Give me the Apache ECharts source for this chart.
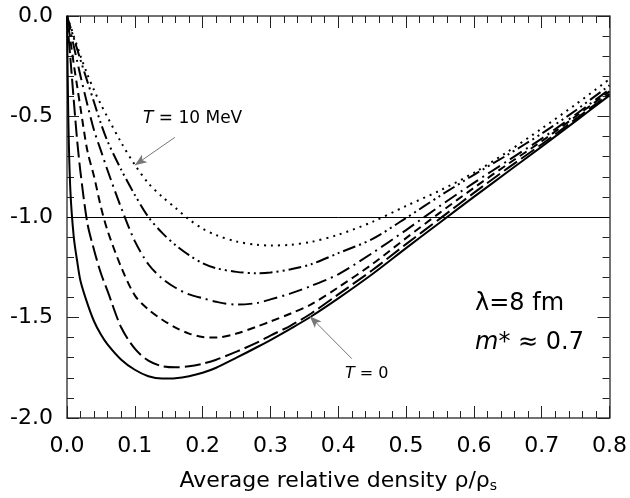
<!DOCTYPE html>
<html><head><meta charset="utf-8">
<script src="https://cdn.jsdelivr.net/npm/echarts@6/dist/echarts.min.js"></script>
<style>html,body{margin:0;padding:0;background:#fff}#c{width:630px;height:498px}</style>
</head><body><div id="c"></div>
<script>
// average relative density rho/rho_s
const xs = [0, 0.002, 0.005, 0.01, 0.015, 0.02, 0.03, 0.04, 0.05, 0.06, 0.08, 0.10, 0.12, 0.14, 0.16, 0.18, 0.20, 0.22, 0.25, 0.28, 0.30, 0.33, 0.36, 0.40, 0.45, 0.50, 0.55, 0.60, 0.65, 0.70, 0.75, 0.80];
// curves from T = 0 (solid) to T = 10 MeV (dotted)
const curveT0 = [0, -0.52, -0.87, -1.10, -1.22, -1.32, -1.43, -1.52, -1.585, -1.635, -1.71, -1.76, -1.792, -1.804, -1.802, -1.792, -1.775, -1.75, -1.70, -1.648, -1.612, -1.555, -1.495, -1.405, -1.285, -1.155, -1.027, -0.90, -0.775, -0.65, -0.523, -0.395];
const curve2 = [0, -0.09, -0.21, -0.42, -0.62, -0.78, -1.03, -1.165, -1.28, -1.37, -1.55, -1.655, -1.715, -1.742, -1.748, -1.743, -1.73, -1.71, -1.67, -1.625, -1.59, -1.54, -1.48, -1.385, -1.265, -1.135, -1.008, -0.88, -0.757, -0.638, -0.513, -0.387];
const curve3 = [0, -0.05, -0.12, -0.24, -0.35, -0.46, -0.67, -0.80, -0.95, -1.07, -1.25, -1.39, -1.46, -1.51, -1.55, -1.58, -1.597, -1.60, -1.58, -1.545, -1.52, -1.48, -1.435, -1.35, -1.235, -1.105, -0.978, -0.855, -0.737, -0.623, -0.50, -0.375];
const curve4 = [0, -0.03, -0.075, -0.15, -0.225, -0.30, -0.44, -0.57, -0.67, -0.77, -0.955, -1.12, -1.235, -1.305, -1.352, -1.385, -1.404, -1.422, -1.436, -1.428, -1.41, -1.38, -1.343, -1.285, -1.18, -1.065, -0.945, -0.83, -0.72, -0.61, -0.49, -0.365];
const curve5 = [0, -0.022, -0.055, -0.11, -0.165, -0.22, -0.325, -0.43, -0.535, -0.625, -0.765, -0.89, -1.0, -1.078, -1.14, -1.19, -1.23, -1.255, -1.273, -1.28, -1.276, -1.26, -1.235, -1.18, -1.11, -1.005, -0.895, -0.79, -0.69, -0.585, -0.47, -0.345];
const curveT10 = [0, -0.02, -0.05, -0.10, -0.15, -0.20, -0.29, -0.37, -0.44, -0.505, -0.63, -0.74, -0.832, -0.898, -0.955, -1.012, -1.058, -1.09, -1.122, -1.138, -1.142, -1.138, -1.124, -1.088, -1.025, -0.945, -0.868, -0.78, -0.675, -0.56, -0.44, -0.314];
const refLevel = -1.0;
// annotation arrows (tail, tip) in data coordinates
const arrowHot = [[0.159, -0.604], [0.100, -0.742]];
const arrowCold = [[0.420, -1.705], [0.358, -1.494]];

const FONT = 'DejaVu Sans';
const zip = ys => xs.map((x, i) => [x, ys[i]]);
const dashes = [
  {d: curveT0, t: 'solid'},
  {d: curve2, t: [16, 5]},
  {d: curve3, t: [8, 5]},
  {d: curve4, t: [14, 5, 2, 5]},
  {d: curve5, t: [13, 4, 2, 4, 2, 4]},
  {d: curveT10, t: [2, 5]}
];
const arrowLine = (pts) => ({
  silent: true, animation: false,
  symbol: ['none', 'arrow'], symbolSize: [7, 12],
  label: {show: false},
  lineStyle: {color: '#777', width: 1, type: 'solid'},
  itemStyle: {color: '#777'},
  data: [[{coord: pts[0]}, {coord: pts[1]}]]
});

const series = dashes.map((c, i) => ({
  type: 'line', data: zip(c.d), showSymbol: false, smooth: 0.3,
  lineStyle: {color: '#000', width: 2, type: c.t, cap: 'butt'},
  z: 3
}));
series[0].markLine = {
  silent: true, animation: false, symbol: 'none', label: {show: false},
  lineStyle: {color: '#000', width: 1, type: 'solid'},
  data: [{yAxis: refLevel}]
};
series.push({type: 'line', data: [], xAxisIndex: 0, yAxisIndex: 0, markLine: arrowLine(arrowHot)});
series.push({type: 'line', data: [], xAxisIndex: 0, yAxisIndex: 0, markLine: arrowLine(arrowCold)});

const axisCommon = {
  axisLine: {show: true, onZero: false, lineStyle: {color: '#444', width: 1.5}},
  axisTick: {show: true, inside: true, length: 12, lineStyle: {color: '#222', width: 1}},
  minorTick: {show: true, splitNumber: 5, length: 7, lineStyle: {color: '#222', width: 1}},
  splitLine: {show: false}
};
const chart = echarts.init(document.getElementById('c'), null, {renderer: 'canvas'});
chart.setOption({
  animation: false,
  backgroundColor: '#fff',
  grid: {left: 67, right: 20, top: 16, bottom: 75},
  xAxis: [
    Object.assign({type: 'value', min: 0, max: 0.8, interval: 0.1, position: 'bottom',
      axisLabel: {fontSize: 22, fontFamily: FONT, color: '#000', margin: 17, formatter: v => v.toFixed(1)},
      name: 'Average relative density ρ/ρ{s|s}', nameLocation: 'middle', nameGap: 51,
      nameTextStyle: {fontSize: 22, fontFamily: FONT, color: '#000',
        rich: {s: {fontSize: 14, fontFamily: FONT, color: '#000', verticalAlign: 'bottom', padding: [10, 0, 0, 0]}}}
    }, axisCommon),
    Object.assign({type: 'value', min: 0, max: 0.8, interval: 0.1, position: 'top', axisLabel: {show: false}}, axisCommon)
  ],
  yAxis: [
    Object.assign({type: 'value', min: -2, max: 0, interval: 0.5, position: 'left',
      axisLabel: {fontSize: 22, fontFamily: FONT, color: '#000', margin: 14, formatter: v => v.toFixed(1)}
    }, axisCommon),
    Object.assign({type: 'value', min: -2, max: 0, interval: 0.5, position: 'right', axisLabel: {show: false}}, axisCommon)
  ],
  graphic: [
    {type: 'text', left: 143, top: 110, style: {text: '{i|T} = 10 MeV', fontSize: 17, fontFamily: FONT, fill: '#000',
      rich: {i: {fontStyle: 'italic', fontSize: 17, fontFamily: FONT, fill: '#000'}}}},
    {type: 'text', left: 345, top: 366, style: {text: '{i|T} = 0', fontSize: 16, fontFamily: FONT, fill: '#000',
      rich: {i: {fontStyle: 'italic', fontSize: 16, fontFamily: FONT, fill: '#000'}}}},
    {type: 'text', left: 475, top: 292, style: {text: 'λ=8 fm', fontSize: 24, fontFamily: FONT, fill: '#000'}},
    {type: 'text', left: 475, top: 331, style: {text: '{i|m}* ≈ 0.7', fontSize: 24, fontFamily: FONT, fill: '#000',
      rich: {i: {fontStyle: 'italic', fontSize: 24, fontFamily: FONT, fill: '#000'}}}}
  ],
  series: series
});
</script></body></html>
